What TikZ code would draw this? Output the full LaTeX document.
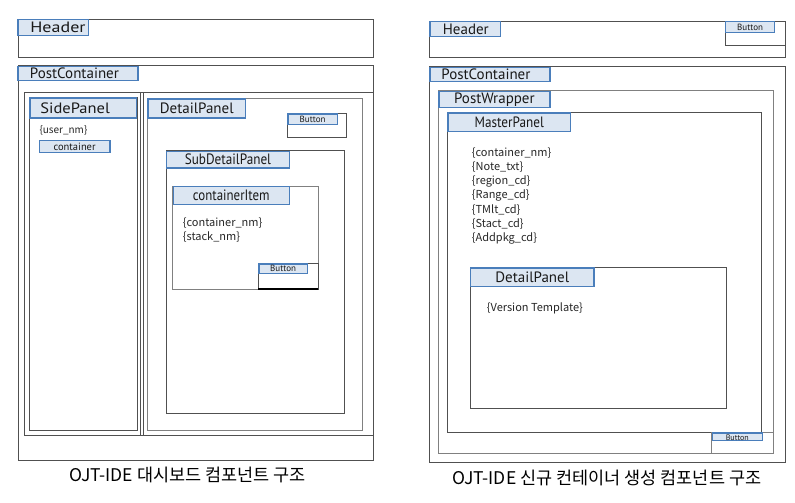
\documentclass[tikz,border=0pt]{standalone}
\usepackage{fontspec}
\setmainfont{PT Sans}
\newfontfamily\krf{Noto Sans CJK KR}
\definecolor{lblfill}{HTML}{DCE6F2}
\definecolor{lbldraw}{HTML}{4A7EBB}
\definecolor{linec}{HTML}{505050}
\definecolor{linel}{HTML}{808080}
\tikzset{
  frame/.style={draw=linec, line width=0.9pt},
  framel/.style={draw=linel, line width=0.9pt},
  lblbox/.style={draw=lbldraw, fill=lblfill, line width=1.2pt, inner xsep=0pt, inner ysep=0pt, anchor=north west, text=black!90},
  big/.style={font=\fontsize{15}{15}\selectfont},
  small/.style={font=\fontsize{9}{9}\selectfont},
  body/.style={font=\krf\fontsize{11}{14}\selectfont, inner sep=0pt, anchor=west, text=black!85},
  caption/.style={font=\krf\fontsize{17.5}{18}\selectfont, inner sep=0pt}
}
% name, x, y, width, height, alignment, style, text
\newcommand\mylbl[8]{\node[lblbox, #7, minimum width=#4pt, minimum height=#5pt, text width=#4pt, align=#6] (#1) at (#2,#3) {#8};}
\newcommand\hs[2]{\scalebox{#1}[1]{#2}}
\begin{document}
\begin{tikzpicture}[x=1pt,y=-1pt]
\useasboundingbox (0,0) rectangle (795,503);
% ---------------- left diagram ----------------
\draw[frame] (18.3,19.3) rectangle (373,57.3);
\draw[frame] (18.3,65.7) rectangle (373,460.7);
\draw[frame] (24,92.3) rectangle (373,435);
\draw[frame] (24,92.3) rectangle (140.7,435);
\draw[frame] (29.3,97.3) rectangle (137.3,430);
\draw[frame] (143.3,92.3) -- (143.3,435);
\draw[framel] (147.3,98.3) rectangle (362.7,430);
\draw[frame] (287.3,113.3) rectangle (346.7,137.3);
\draw[frame] (166,150.7) rectangle (344,413.3);
\draw[framel] (172.7,186) rectangle (318.3,289);
\draw[frame] (258.3,263.3) rectangle (318.3,289);
\draw[draw=black, line width=1.4pt] (258.3,289) -- (318.3,289);

\mylbl{lheader}{17.3}{19.3}{70.7}{15.3}{left}{big}{\hspace*{12.5pt}\hs{1.2}{Header}}
\mylbl{lpost}{17.3}{65.7}{120}{14.3}{left}{big}{\hspace*{12pt}PostContainer}
\mylbl{lside}{29.3}{97.3}{106.7}{20}{left}{big}{\hspace*{10.5pt}\hs{1.1}{SidePanel}}
\mylbl{ldetail}{147.3}{98.3}{97.7}{19}{center}{big}{DetailPanel}
\mylbl{lbtn1}{287.3}{113.3}{49.4}{10.7}{center}{small}{Button}
\mylbl{lsub}{166}{150.7}{122.7}{16.6}{center}{big}{\hs{0.88}{SubDetailPanel}}
\mylbl{litem}{172.7}{186}{116}{18}{center}{big}{\hs{0.86}{containerItem}}
\mylbl{lbtn2}{258.3}{263.3}{48.4}{9.4}{center}{small}{Button}
\mylbl{lcont}{38.7}{140}{70.6}{11.7}{center}{font=\fontsize{10.5}{10.5}\selectfont}{container}

\node[body] (luser) at (39.3,130) {\fontsize{10}{12}\selectfont\{user\_nm\}};
\node[body] (lcnm) at (182.7,222.7) {\{container\_nm\}};
\node[body] (lstk) at (182.7,237.3) {\{stack\_nm\}};
\node[caption] (lcap) at (187.5,475) {OJT-IDE 대시보드 컴포넌트 구조};

% ---------------- right diagram ----------------
\draw[frame] (429.3,21) rectangle (785,57.7);
\draw[frame] (725,21) rectangle (785,45);
\draw[frame] (429.3,66.7) rectangle (785,462.3);
\draw[framel] (438.3,90.7) rectangle (773.3,453.3);
\draw[frame] (447.3,112.3) rectangle (761.7,432.3);
\draw[frame] (470,267.3) rectangle (726.7,408.3);
\draw[framel] (711.7,432.3) rectangle (773.3,453.3);

\mylbl{rheader}{429.3}{21}{70.7}{15}{left}{big}{\hspace*{13pt}Header}
\mylbl{rbtn0}{725}{21}{49}{10.7}{center}{small}{Button}
\mylbl{rpost}{429.3}{66.7}{120}{14.3}{left}{big}{\hspace*{11.5pt}PostContainer}
\mylbl{rwrap}{438.3}{90.7}{111}{16}{center}{big}{PostWrapper}
\mylbl{rmaster}{447.3}{112.3}{122.7}{18.7}{center}{big}{\hs{0.88}{MasterPanel}}
\mylbl{rdetail}{470}{267.3}{123.3}{18.4}{center}{big}{DetailPanel}
\mylbl{rbtn1}{711.7}{432.3}{50}{7.2}{center}{font=\fontsize{8}{7}\selectfont}{\raisebox{-1pt}[5pt][0pt]{Button}}

\node[body] (r1) at (471.7,153.3) {\{container\_nm\}};
\node[body] (r2) at (471.7,167.5) {\{Note\_txt\}};
\node[body] (r3) at (471.7,181.7) {\{region\_cd\}};
\node[body] (r4) at (471.7,195.9) {\{Range\_cd\}};
\node[body] (r5) at (471.7,210.0) {\{TMlt\_cd\}};
\node[body] (r6) at (471.7,224.2) {\{Stact\_cd\}};
\node[body] (r7) at (471.7,238.4) {\{Addpkg\_cd\}};
\node[body] (rver) at (486.7,308.3) {\{Version Template\}};
\node[caption] (rcap) at (606.7,478) {OJT-IDE 신규 컨테이너 생성 컴포넌트 구조};
\end{tikzpicture}
\end{document}
